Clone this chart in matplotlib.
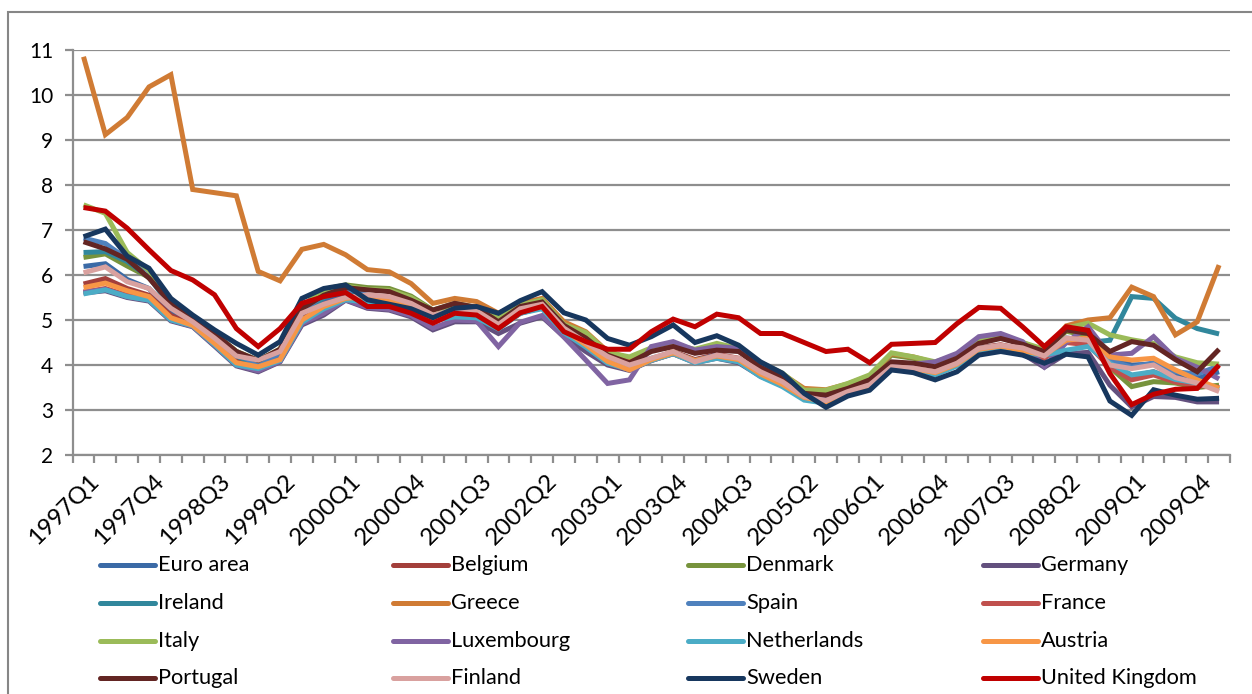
import matplotlib
matplotlib.use("Agg")
import matplotlib.pyplot as plt
from matplotlib.lines import Line2D
from matplotlib.patches import Rectangle
import matplotlib.transforms as mtransforms

plt.rcParams['font.family'] = ['Lato', 'DejaVu Sans']

# Quarterly periods 1997Q1 .. 2010Q1
quarters = [f"{y}Q{q}" for y in range(1997, 2011) for q in range(1, 5)][:53]

euro_area = [6.19, 6.25, 5.90, 5.70, 5.15, 4.90, 4.50, 4.10, 3.95, 4.20, 5.10, 5.40, 5.55,
             5.45, 5.42, 5.25, 5.00, 5.13, 5.08, 4.83, 5.15, 5.28, 4.75, 4.42, 4.05, 3.92, 4.12,
             4.28, 4.10, 4.20, 4.12, 3.80, 3.58, 3.28, 3.20, 3.38, 3.55, 3.95, 3.92, 3.83, 4.02,
             4.35, 4.42, 4.32, 4.15, 4.55, 4.50, 4.15, 4.00, 4.02, 3.75, 3.70, 3.85]
belgium = [5.80, 5.92, 5.70, 5.55, 5.10, 4.90, 4.50, 4.10, 3.98, 4.15, 5.05, 5.35, 5.50,
           5.50, 5.45, 5.30, 5.05, 5.20, 5.12, 4.86, 5.20, 5.32, 4.78, 4.45, 4.08, 3.92, 4.12,
           4.30, 4.12, 4.24, 4.15, 3.82, 3.60, 3.30, 3.22, 3.40, 3.57, 3.98, 3.94, 3.85, 4.05,
           4.38, 4.45, 4.35, 4.22, 4.55, 4.48, 4.00, 3.75, 3.85, 3.65, 3.55, 3.50]
denmark = [6.39, 6.47, 6.20, 5.95, 5.35, 5.05, 4.70, 4.30, 4.10, 4.35, 5.30, 5.68, 5.78,
           5.72, 5.70, 5.53, 5.22, 5.37, 5.28, 5.10, 5.35, 5.45, 4.92, 4.70, 4.26, 4.15, 4.35,
           4.40, 4.30, 4.45, 4.33, 4.02, 3.78, 3.42, 3.42, 3.55, 3.75, 4.22, 4.15, 4.05, 4.20,
           4.52, 4.62, 4.48, 4.32, 4.75, 4.65, 3.95, 3.52, 3.63, 3.60, 3.50, 3.55]
germany = [5.60, 5.65, 5.50, 5.42, 4.98, 4.85, 4.42, 3.98, 3.85, 4.07, 4.89, 5.11, 5.44,
           5.26, 5.22, 5.07, 4.78, 4.96, 4.96, 4.70, 4.93, 5.07, 4.63, 4.30, 4.00, 3.88, 4.10,
           4.25, 4.05, 4.15, 4.05, 3.75, 3.55, 3.25, 3.15, 3.35, 3.50, 3.90, 3.88, 3.80, 4.00,
           4.30, 4.38, 4.25, 3.95, 4.25, 4.28, 3.55, 3.07, 3.30, 3.28, 3.18, 3.18]
ireland = [6.50, 6.52, 6.30, 5.95, 5.30, 5.00, 4.60, 4.20, 4.00, 4.25, 5.15, 5.50, 5.65,
           5.55, 5.48, 5.33, 5.08, 5.22, 5.15, 4.88, 5.22, 5.33, 4.80, 4.48, 4.10, 3.95, 4.12,
           4.27, 4.08, 4.20, 4.10, 3.80, 3.57, 3.28, 3.20, 3.40, 3.55, 3.95, 3.92, 3.82, 4.02,
           4.36, 4.42, 4.32, 4.20, 4.55, 4.50, 4.55, 5.52, 5.48, 5.04, 4.81, 4.69]
greece = [10.85, 9.12, 9.50, 10.18, 10.45, 7.90, 7.83, 7.76, 6.08, 5.87, 6.57, 6.68, 6.45,
          6.12, 6.07, 5.81, 5.37, 5.48, 5.41, 5.15, 5.37, 5.48, 4.96, 4.74, 4.30, 4.15, 4.35,
          4.40, 4.30, 4.40, 4.35, 4.02, 3.80, 3.48, 3.45, 3.58, 3.76, 4.25, 4.18, 4.05, 4.22,
          4.55, 4.65, 4.50, 4.30, 4.87, 5.00, 5.05, 5.73, 5.52, 4.67, 4.96, 6.22]
spain = [6.82, 6.70, 6.35, 6.10, 5.40, 5.00, 4.65, 4.25, 4.00, 4.25, 5.20, 5.55, 5.70,
         5.55, 5.50, 5.35, 5.10, 5.25, 5.18, 4.90, 5.25, 5.35, 4.80, 4.48, 4.12, 3.95, 4.15,
         4.28, 4.10, 4.22, 4.12, 3.80, 3.58, 3.30, 3.22, 3.40, 3.55, 3.96, 3.92, 3.83, 4.03,
         4.37, 4.43, 4.33, 4.18, 4.60, 4.55, 4.10, 3.95, 4.05, 3.85, 3.80, 3.98]
france = [5.62, 5.70, 5.55, 5.46, 5.02, 4.88, 4.47, 4.03, 3.94, 4.12, 5.00, 5.28, 5.46,
          5.45, 5.42, 5.26, 5.00, 5.15, 5.08, 4.83, 5.15, 5.28, 4.75, 4.42, 4.05, 3.90, 4.10,
          4.25, 4.07, 4.18, 4.08, 3.77, 3.55, 3.26, 3.18, 3.37, 3.52, 3.92, 3.88, 3.80, 4.00,
          4.32, 4.40, 4.30, 4.15, 4.50, 4.45, 3.95, 3.67, 3.78, 3.62, 3.55, 3.50]
italy = [7.56, 7.37, 6.50, 6.10, 5.40, 5.05, 4.70, 4.30, 4.10, 4.35, 5.30, 5.65, 5.75,
         5.68, 5.66, 5.50, 5.20, 5.35, 5.25, 5.08, 5.33, 5.45, 4.90, 4.72, 4.28, 4.18, 4.38,
         4.45, 4.35, 4.48, 4.37, 4.05, 3.82, 3.44, 3.44, 3.59, 3.78, 4.27, 4.18, 4.07, 4.22,
         4.55, 4.65, 4.50, 4.35, 4.82, 4.93, 4.67, 4.56, 4.48, 4.18, 4.05, 4.02]
luxembourg = [5.62, 5.68, 5.52, 5.44, 5.00, 4.86, 4.44, 4.00, 3.87, 4.08, 4.92, 5.15, 5.45,
              5.28, 5.24, 5.10, 4.82, 5.00, 4.98, 4.41, 4.95, 5.10, 4.62, 4.11, 3.59, 3.67, 4.41,
              4.52, 4.33, 4.41, 4.37, 4.00, 3.75, 3.35, 3.28, 3.45, 3.62, 4.05, 4.02, 4.07, 4.26,
              4.63, 4.70, 4.52, 3.96, 4.50, 4.85, 4.22, 4.26, 4.63, 4.15, 3.95, 3.69]
netherlands = [5.58, 5.67, 5.52, 5.44, 5.00, 4.87, 4.45, 4.00, 3.92, 4.10, 4.95, 5.25, 5.45,
               5.40, 5.37, 5.22, 4.98, 5.07, 5.05, 4.80, 5.15, 5.25, 4.72, 4.40, 4.04, 3.90, 4.10,
               4.25, 4.05, 4.15, 4.07, 3.74, 3.52, 3.22, 3.15, 3.35, 3.50, 3.90, 3.87, 3.78, 3.98,
               4.30, 4.38, 4.28, 4.22, 4.33, 4.41, 4.04, 3.78, 3.85, 3.68, 3.60, 3.45]
austria = [5.72, 5.82, 5.65, 5.52, 5.05, 4.88, 4.48, 4.05, 3.96, 4.12, 5.00, 5.30, 5.48,
           5.52, 5.45, 5.30, 5.05, 5.18, 5.12, 4.85, 5.20, 5.30, 4.78, 4.45, 4.08, 3.89, 4.12,
           4.27, 4.10, 4.20, 4.12, 3.80, 3.57, 3.28, 3.18, 3.38, 3.55, 3.95, 3.92, 3.83, 4.02,
           4.35, 4.42, 4.32, 4.22, 4.55, 4.60, 4.18, 4.11, 4.15, 3.89, 3.67, 3.48]
portugal = [6.74, 6.58, 6.35, 5.93, 5.37, 5.05, 4.70, 4.30, 4.10, 4.35, 5.25, 5.55, 5.72,
            5.67, 5.63, 5.44, 5.22, 5.37, 5.28, 4.96, 5.30, 5.40, 4.88, 4.60, 4.22, 4.05, 4.30,
            4.41, 4.26, 4.33, 4.30, 3.95, 3.72, 3.37, 3.33, 3.48, 3.67, 4.07, 4.04, 3.96, 4.15,
            4.48, 4.59, 4.46, 4.30, 4.78, 4.70, 4.30, 4.52, 4.44, 4.12, 3.85, 4.35]
finland = [6.05, 6.18, 5.85, 5.70, 5.26, 4.96, 4.60, 4.20, 4.11, 4.30, 5.15, 5.35, 5.50,
           5.56, 5.52, 5.37, 5.11, 5.22, 5.20, 4.90, 5.25, 5.35, 4.82, 4.50, 4.19, 4.00, 4.15,
           4.30, 4.07, 4.22, 4.15, 3.85, 3.63, 3.30, 3.21, 3.41, 3.56, 3.96, 3.93, 3.85, 4.04,
           4.37, 4.44, 4.38, 4.20, 4.60, 4.55, 4.00, 3.92, 4.00, 3.72, 3.60, 3.41]
sweden = [6.85, 7.02, 6.42, 6.15, 5.48, 5.11, 4.78, 4.48, 4.22, 4.52, 5.48, 5.70, 5.78,
          5.45, 5.35, 5.25, 5.05, 5.26, 5.30, 5.15, 5.43, 5.63, 5.16, 5.00, 4.59, 4.44, 4.63,
          4.89, 4.50, 4.65, 4.44, 4.07, 3.82, 3.37, 3.06, 3.31, 3.44, 3.89, 3.83, 3.67, 3.85,
          4.22, 4.30, 4.22, 4.04, 4.24, 4.18, 3.20, 2.88, 3.45, 3.33, 3.24, 3.26]
united_kingdom = [7.50, 7.42, 7.04, 6.56, 6.10, 5.89, 5.56, 4.81, 4.41, 4.81, 5.37, 5.52, 5.61,
                  5.30, 5.30, 5.15, 4.93, 5.15, 5.11, 4.81, 5.16, 5.30, 4.74, 4.52, 4.35, 4.35, 4.74,
                  5.02, 4.85, 5.13, 5.05, 4.70, 4.70, 4.50, 4.30, 4.35, 4.05, 4.46, 4.48, 4.50, 4.92,
                  5.28, 5.26, 4.85, 4.41, 4.85, 4.77, 3.81, 3.12, 3.35, 3.46, 3.48, 4.00]

series_names = ["Euro area", "Belgium", "Denmark", "Germany",
                "Ireland", "Greece", "Spain", "France",
                "Italy", "Luxembourg", "Netherlands", "Austria",
                "Portugal", "Finland", "Sweden", "United Kingdom"]
series_values = [euro_area, belgium, denmark, germany,
                 ireland, greece, spain, france,
                 italy, luxembourg, netherlands, austria,
                 portugal, finland, sweden, united_kingdom]
series_colors = ["#3B6AA6", "#A33F3B", "#77933C", "#63507E",
                 "#31879C", "#D07B34", "#4F81BD", "#C0504D",
                 "#9BBB59", "#8064A2", "#4BACC6", "#F79646",
                 "#632523", "#D9A19F", "#17375E", "#C00000"]

W, H = 1252, 694
fig = plt.figure(figsize=(W / 100, H / 100), dpi=100)
ax = fig.add_axes([72.6 / W, 1 - 455 / H, (1230 - 72.6) / W, (455 - 50) / H])

x = list(range(len(quarters)))
for vals, col in zip(series_values, series_colors):
    ax.plot(x, vals, color=col, lw=3.6, solid_joinstyle='miter', solid_capstyle='butt')

ax.set_xlim(-0.5, len(quarters) - 0.5)
ax.set_ylim(2, 11)
ax.set_yticks(range(2, 12))
ax.yaxis.grid(True, color="#8E8E8E", lw=1.6)
ax.set_axisbelow(True)

for side in ("top", "right"):
    ax.spines[side].set_visible(False)
for side in ("left", "bottom"):
    ax.spines[side].set_color("#8E8E8E")
    ax.spines[side].set_linewidth(1.6)

ax.tick_params(axis='y', length=6, width=1.6, color="#8E8E8E", labelsize=15, pad=8)

# category separators as minor ticks, labels every third quarter
ax.set_xticks([i - 0.5 for i in range(len(quarters) + 1)], minor=True)
ax.tick_params(axis='x', which='minor', length=6, width=1.6, color="#8E8E8E", direction='out')
label_pos = list(range(0, len(quarters), 3))
ax.set_xticks(label_pos)
ax.set_xticklabels([quarters[i] for i in label_pos], rotation=45, ha='right',
                   rotation_mode='anchor', fontsize=17.5)
ax.tick_params(axis='x', which='major', length=0, pad=11)
offset = mtransforms.ScaledTranslation(4 / 100, 0, fig.dpi_scale_trans)
for lab in ax.get_xticklabels():
    lab.set_transform(lab.get_transform() + offset)

# legend in four columns, row by row
col_x = [100, 393, 688, 983]
row_y = [565, 603, 641, 678]
for k, (name, col) in enumerate(zip(series_names, series_colors)):
    r, c = divmod(k, 4)
    x0 = col_x[c]
    y0 = row_y[r]
    fig.add_artist(Line2D([x0 / W, (x0 + 55) / W], [1 - y0 / H, 1 - y0 / H],
                          color=col, lw=3.6, solid_capstyle='round'))
    fig.text((x0 + 58) / W, 1 - y0 / H, name, fontsize=15.7, va='center', ha='left')

# chart area border
fig.add_artist(Rectangle((8 / W, -0.1), 1.2, 1 - 12 / H + 0.1, transform=fig.transFigure,
                         fill=False, edgecolor="#868686", lw=1.5))

fig.savefig("out.png", dpi=100)
